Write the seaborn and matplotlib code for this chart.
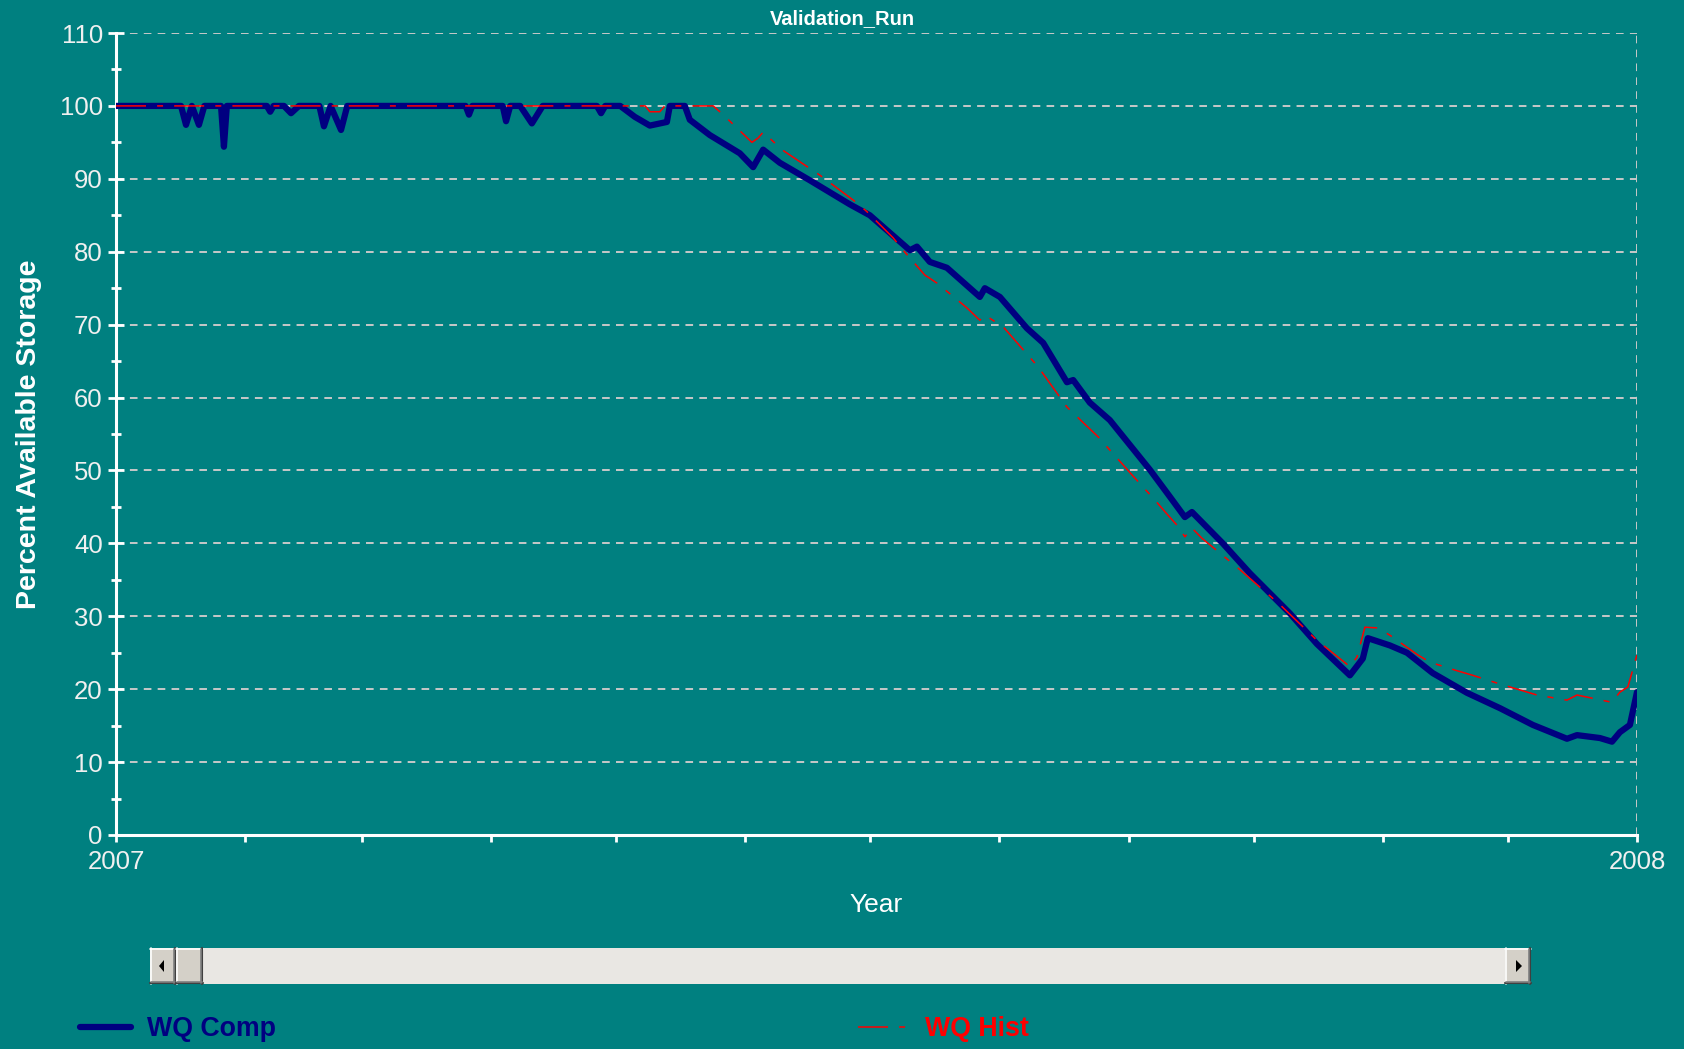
import numpy as np
import pandas as pd
import matplotlib
matplotlib.use("Agg")
import matplotlib.pyplot as plt
import matplotlib.dates as mdates
from matplotlib.patches import Rectangle, Polygon
from matplotlib.lines import Line2D
import seaborn as sns

# day offsets from 2007-01-01 and percent available storage
comp_day = [0, 15.6, 16.8, 18.2, 19.9, 21.2, 25.2, 25.9, 26.6, 36.2, 37, 37.8,
            40.3, 42, 43.9, 48.8, 49.9, 51.5, 54, 55.5, 83.9, 84.7, 85.5, 92.8,
            93.6, 94.6, 97, 99.8, 102.4, 115.4, 116.4, 117.4,
            121, 124.5, 128.1, 132.2, 132.9, 136.5, 137.7, 142.5, 149.7,
            152.9, 155.3, 159.3, 166.5, 176.1, 180.9, 190.5, 192.2, 195.3, 199.4,
            207.3, 208.5, 212.1, 218.6, 222.5, 228.2, 229.7, 233.7, 238.5, 248.1,
            252.9, 256.5, 258.2, 265.6, 272.1, 281.7, 288.2, 296.1, 299.2, 300.4,
            305.7, 309.8, 316, 324.2, 332.1, 340, 348.2, 350.6, 356.1, 359, 360.9,
            363.3, 365]
comp_val = [100, 100, 97.4, 100, 97.4, 100, 100, 94.4, 100, 100, 99.2, 100,
            100, 99.0, 100, 100, 97.2, 100, 96.7, 100, 100, 98.8, 100, 100,
            97.9, 100, 100, 97.6, 100, 100, 99.0, 100,
            100, 98.5, 97.3, 97.8, 100, 100, 98.1, 96, 93.5,
            91.6, 94, 92.2, 89.8, 86.5, 85, 80.2, 80.7, 78.6, 77.8,
            73.8, 75, 73.8, 69.5, 67.5, 62.1, 62.4, 59.3, 56.9, 50.1,
            46.4, 43.6, 44.3, 40, 35.9, 30.4, 26.2, 21.9, 24.2, 27,
            26, 25, 22.2, 19.5, 17.4, 15.1, 13.2, 13.7, 13.3, 12.8, 14.1,
            15.1, 19.6]

hist_day = [0, 127, 128.1, 130.5, 131.7, 143.3, 145.7, 152.6, 154.1, 155.3, 159.8,
            168.9, 177.8, 180.2, 186.5, 188.9, 194.1, 197, 204.2, 207.3, 208.5,
            212.9, 221.3, 228.2, 235.7, 243.8, 248.9, 252.4, 254.9, 256.5, 258.2,
            260.6, 269.7, 279.3, 288.2, 296.1, 297.8, 299.7, 302.8, 305.7, 312.4,
            315.3, 322, 325.6, 331.6, 341, 348.2, 350.6, 359, 360.9, 362.8, 365]
hist_val = [100, 100, 99.2, 99.2, 100, 100, 98.8, 95, 95.6, 96.4, 94,
            90.5, 86.7, 85.5, 81.9, 80.2, 76.8, 75.7, 72.3, 70.6, 71.3,
            69.7, 64.2, 58.7, 54.6, 49.4, 46.2, 43.9, 42.3, 40.9, 42.1,
            40.7, 36.4, 31.6, 26.7, 23.1, 24.4, 28.5, 28.4, 27.4, 24.7,
            23.7, 22.5, 21.9, 20.8, 19.2, 18.5, 19.2, 18.2, 19.6, 20.3, 24.7]

start = pd.Timestamp("2007-01-01")
end = pd.Timestamp("2008-01-01")
comp = pd.DataFrame({"date": start + pd.to_timedelta(comp_day, unit="D"), "pct": comp_val})
hist = pd.DataFrame({"date": start + pd.to_timedelta(hist_day, unit="D"), "pct": hist_val})

BG = "#008080"
W, H = 1684, 1049

sns.set_theme(style="white")
plt.rcParams["font.family"] = ["Liberation Sans", "DejaVu Sans"]
plt.rcParams["lines.scale_dashes"] = False

fig, ax = plt.subplots(figsize=(W / 100, H / 100), dpi=100)
fig.patch.set_facecolor(BG)
ax.set_facecolor(BG)
fig.subplots_adjust(left=116 / W, right=1637 / W, top=1 - 33 / H, bottom=1 - 835 / H)

sns.lineplot(data=comp, x="date", y="pct", ax=ax, color="#000080", linewidth=4.5,
             zorder=3, solid_joinstyle="round")
sns.lineplot(data=hist, x="date", y="pct", ax=ax, color="#ff0000", linewidth=1.1,
             linestyle=(0, (21.6, 8, 4.3, 8)), zorder=4)
ax.set_xlim(start, end)
ax.set_ylim(0, 110)

ax.set_yticks(np.arange(0, 111, 10))
ax.set_yticks(np.arange(5, 110, 10), minor=True)
ax.xaxis.set_major_locator(mdates.YearLocator())
ax.xaxis.set_major_formatter(mdates.DateFormatter("%Y"))
ax.xaxis.set_minor_locator(mdates.MonthLocator())

ax.grid(True, axis="y", which="major", color="#c8c8c8", linestyle=(0, (5.5, 4.5)), linewidth=1.4)
ax.axvline(end, color="#c8c8c8", linestyle=(0, (5.5, 4.5)), linewidth=1.4, zorder=1)

for s in ["top", "right"]:
    ax.spines[s].set_visible(False)
for s in ["left", "bottom"]:
    ax.spines[s].set_color("white")
    ax.spines[s].set_linewidth(2.2)

ax.tick_params(axis="y", which="major", direction="inout", length=11, width=2, color="white",
               labelcolor="#f0f0f0", labelsize=18.5, pad=4, left=True)
ax.tick_params(axis="y", which="minor", direction="inout", length=7, width=2, color="white", left=True)
ax.tick_params(axis="x", which="both", direction="out", length=5, width=2, color="white",
               labelcolor="#f0f0f0", labelsize=18.5, pad=6, bottom=True)

ax.set_xlabel("Year", color="white", fontsize=19)
ax.xaxis.set_label_coords(0.5, -0.0875)
ax.xaxis.label.set_va("center")
ax.set_ylabel("Percent Available Storage", color="white", fontsize=20.5, fontweight="bold")
ax.yaxis.set_label_coords(-0.0575, 0.5)
ax.yaxis.label.set_va("center")

fig.text(842 / W, 1 - 19 / H, "Validation_Run", color="white", fontsize=14.5,
         fontweight="bold", ha="center", va="center")


def fx(x):
    return x / W


def fy(y):
    return 1 - y / H


def rect(x0, y0, x1, y1, fc):
    fig.add_artist(Rectangle((fx(x0), fy(y1)), fx(x1) - fx(x0), fy(y0) - fy(y1),
                             transform=fig.transFigure, facecolor=fc, edgecolor="none"))


def seg(x0, y0, x1, y1, c, lw=1.2):
    fig.add_artist(Line2D([fx(x0), fx(x1)], [fy(y0), fy(y1)], transform=fig.transFigure,
                          color=c, linewidth=lw))


def button(x0, x1, y0=948, y1=984):
    rect(x0, y0, x1, y1, "#d4d0c8")
    seg(x0, y0 + 0.5, x1, y0 + 0.5, "white")
    seg(x0 + 0.5, y0, x0 + 0.5, y1, "white")
    seg(x0, y1 - 1, x1, y1 - 1, "#404040", 1.5)
    seg(x1 - 1, y0, x1 - 1, y1, "#404040", 1.5)
    seg(x0 + 1, y1 - 2.5, x1 - 1, y1 - 2.5, "#808080")
    seg(x1 - 2.5, y0 + 1, x1 - 2.5, y1 - 1, "#808080")


# scrollbar
rect(150, 948, 1531, 984, "#e9e7e3")
button(150, 176)
button(176, 203)
button(1505, 1531)
fig.add_artist(Polygon([(fx(159), fy(966)), (fx(164), fy(960)), (fx(164), fy(972))],
                       closed=True, transform=fig.transFigure, facecolor="black", edgecolor="none"))
fig.add_artist(Polygon([(fx(1516), fy(960)), (fx(1516), fy(972)), (fx(1522), fy(966))],
                       closed=True, transform=fig.transFigure, facecolor="black", edgecolor="none"))

# legend
fig.add_artist(Line2D([fx(80), fx(131)], [fy(1027), fy(1027)], transform=fig.transFigure,
                      color="#000080", linewidth=4.5))
fig.text(fx(147), fy(1029), "WQ Comp", color="#000080", fontsize=19.3, fontweight="bold",
         ha="left", va="center")
fig.add_artist(Line2D([fx(858), fx(906)], [fy(1027), fy(1027)], transform=fig.transFigure,
                      color="#ff0000", linewidth=1.1, linestyle=(0, (21.6, 8, 4.3, 8))))
fig.text(fx(925), fy(1029), "WQ Hist", color="#ff0000", fontsize=19.3, fontweight="bold",
         ha="left", va="center")

fig.savefig("out.png", dpi=100, facecolor=BG)
